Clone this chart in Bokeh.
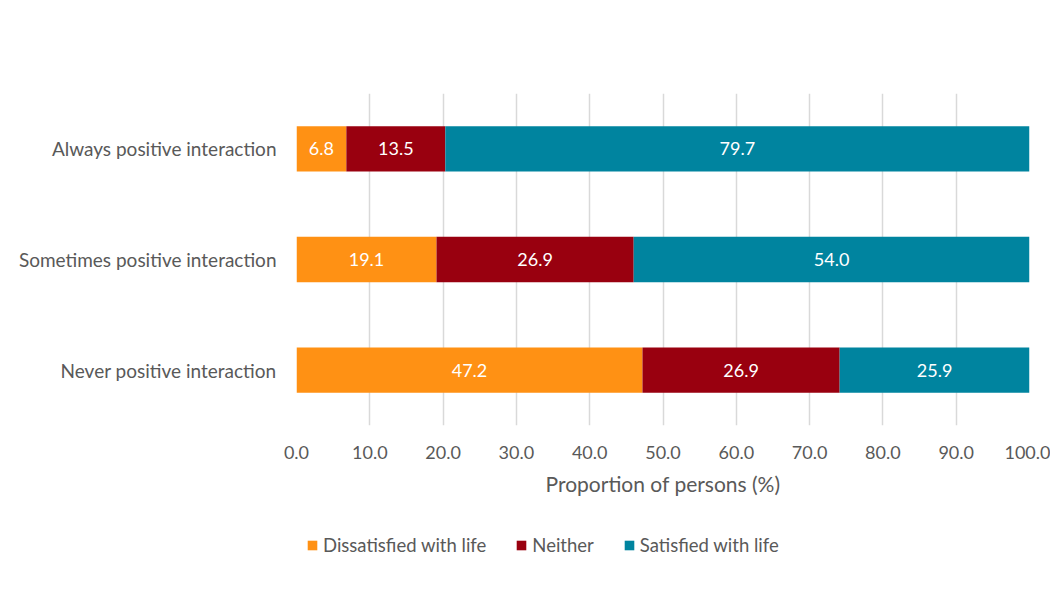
from bokeh.plotting import figure
from bokeh.layouts import column
from bokeh.models import (ColumnDataSource, FactorRange, Range1d, FixedTicker,
                          NumeralTickFormatter, LabelSet, Legend, LegendItem)
from bokeh.core.properties import value
from bokeh.embed import file_html
from bokeh.resources import INLINE

# Data (bottom to top)
categories = ["Never positive interaction", "Sometimes positive interaction", "Always positive interaction"]
dissatisfied = [47.2, 19.1, 6.8]
neither = [26.9, 26.9, 13.5]
satisfied = [25.9, 54.0, 79.7]
series_names = ["Dissatisfied with life", "Neither", "Satisfied with life"]
series_keys = ["dissatisfied", "neither", "satisfied"]
colors = ["#FF9114", "#99000F", "#00849F"]
x_ticks = [0, 10, 20, 30, 40, 50, 60, 70, 80, 90, 100]

FONT = "Lato"
GRAY = "#595959"

source = ColumnDataSource(dict(cat=categories, dissatisfied=dissatisfied,
                               neither=neither, satisfied=satisfied))

p = figure(y_range=FactorRange(*categories, range_padding=0),
           x_range=Range1d(0, 100),
           width=1050, height=510, output_backend="svg", toolbar_location=None,
           min_border_left=296, min_border_right=21, min_border_top=93,
           min_border_bottom=85)
p.outline_line_color = None
p.background_fill_color = "white"
p.border_fill_color = "white"

renderers = p.hbar_stack(series_keys, y="cat", height=0.41, color=colors,
                         source=source, line_color=None)

# labels in segment centres
vals = [dissatisfied, neither, satisfied]
lx, ly, lt = [], [], []
for i, cat in enumerate(categories):
    start = 0.0
    for s in vals:
        v = s[i]
        lx.append(start + v / 2)
        ly.append(cat)
        lt.append(f"{v:.1f}")
        start += v
lab_src = ColumnDataSource(dict(x=lx, y=ly, t=lt))
p.add_layout(LabelSet(x="x", y="y", text="t", source=lab_src, text_color="white",
                      text_font=value(FONT), text_font_size="18px", text_align="center",
                      text_baseline="middle"))

# x axis
xa = p.xaxis[0]
xa.ticker = FixedTicker(ticks=x_ticks)
xa.formatter = NumeralTickFormatter(format="0.0")
xa.axis_line_color = None
xa.major_tick_line_color = None
xa.minor_tick_line_color = None
xa.major_label_text_font = FONT
xa.major_label_text_font_size = "18px"
xa.major_label_text_color = GRAY
xa.major_label_standoff = 14
xa.axis_label = "Proportion of persons (%)"
xa.axis_label_text_font = FONT
xa.axis_label_text_font_size = "21px"
xa.axis_label_text_font_style = "normal"
xa.axis_label_text_color = GRAY
xa.axis_label_standoff = 9

ya = p.yaxis[0]
ya.axis_line_color = None
ya.major_tick_line_color = None
ya.minor_tick_line_color = None
ya.major_label_text_font = FONT
ya.major_label_text_font_size = "19px"
ya.major_label_text_color = GRAY
ya.major_label_standoff = 14

p.xgrid.grid_line_color = "#D9D9D9"
p.xgrid.grid_line_width = 1.5
p.ygrid.grid_line_color = None

# legend figure below (its frame is aligned with the main frame by the column layout)
p2 = figure(width=1050, height=98, output_backend="svg", toolbar_location=None,
            x_axis_type=None, y_axis_type=None, x_range=Range1d(0, 1), y_range=Range1d(0, 1),
            min_border=0, min_border_left=296, min_border_right=21, min_border_top=0,
            min_border_bottom=0)
p2.outline_line_color = None
p2.grid.visible = False
p2.border_fill_color = "white"
# swatch renderers sit outside the visible range; they only supply legend glyphs
leg_renderers = [p2.quad(left=[5], right=[6], top=[5], bottom=[6], color=c, line_color=None)
                 for c in colors]
items = [LegendItem(label=n, renderers=[r]) for n, r in zip(series_names, leg_renderers)]
legend = Legend(items=items, orientation="horizontal", location=(10, 52),
                glyph_width=12, glyph_height=12, label_standoff=5, spacing=29,
                label_text_font=FONT, label_text_font_size="18.5px",
                label_text_color=GRAY, border_line_color=None,
                background_fill_alpha=0, margin=0, padding=0)
p2.add_layout(legend, "center")

layout = column(p, p2, spacing=0)
open("out.html", "w").write(file_html(layout, INLINE))
